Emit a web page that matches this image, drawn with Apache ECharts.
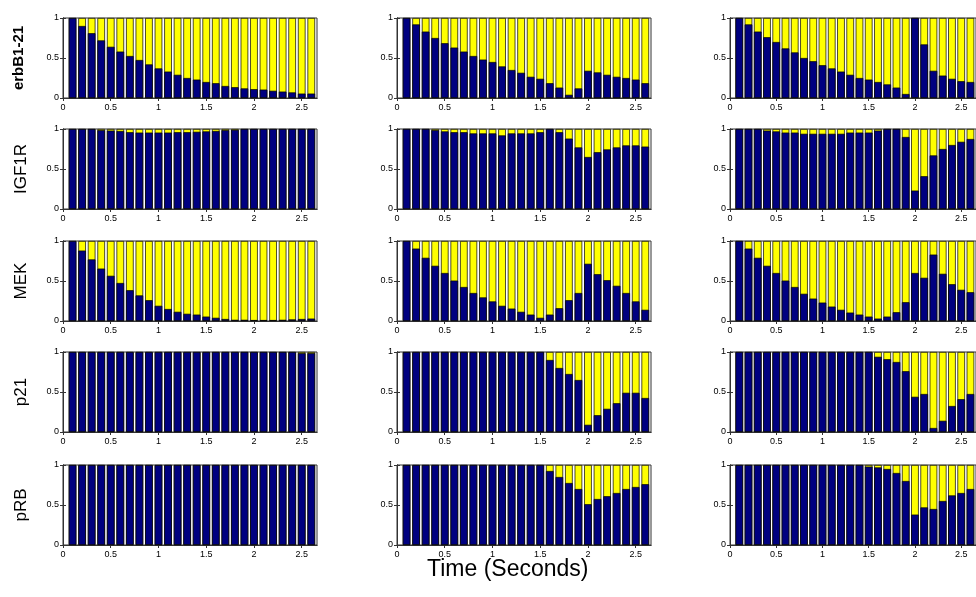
<!DOCTYPE html>
<html><head><meta charset="utf-8">
<script src="https://cdn.jsdelivr.net/npm/echarts@6/dist/echarts.min.js"></script>
<style>html,body{margin:0;padding:0;background:#fff}#c{width:976px;height:597px}</style>
</head><body><div id="c"></div>
<script>
const times = [0.1,0.2,0.3,0.4,0.5,0.6,0.7,0.8,0.9,1.0,1.1,1.2,1.3,1.4,1.5,1.6,1.7,1.8,1.9,2.0,2.1,2.2,2.3,2.4,2.5,2.6];
const xTicks = [0,0.5,1,1.5,2,2.5];
const yTicks = [0,0.5,1];
const rowNames = ['erbB1-21','IGF1R','MEK','p21','pRB'];
const total = 1; // each bar is a fraction of 1 (yellow fills the remainder)

// fraction shown in dark blue for each panel (row, column)
const erbB_1 = [1,0.90,0.81,0.72,0.64,0.58,0.525,0.475,0.42,0.37,0.33,0.29,0.25,0.23,0.20,0.185,0.15,0.135,0.12,0.11,0.105,0.09,0.08,0.07,0.055,0.055];
const erbB_2 = [1,0.92,0.83,0.75,0.685,0.63,0.58,0.525,0.48,0.45,0.395,0.35,0.315,0.265,0.24,0.185,0.13,0.04,0.12,0.34,0.32,0.29,0.265,0.25,0.23,0.185];
const erbB_3 = [1,0.92,0.83,0.76,0.70,0.62,0.57,0.50,0.46,0.41,0.37,0.33,0.29,0.25,0.23,0.20,0.17,0.13,0.05,1,0.67,0.34,0.28,0.24,0.21,0.20];
const igf_1 = [1,1,1,0.985,0.98,0.975,0.96,0.955,0.955,0.955,0.955,0.96,0.96,0.965,0.97,0.975,0.985,0.99,1,1,1,1,1,1,1,1];
const igf_2 = [1,1,1,0.985,0.97,0.96,0.96,0.945,0.945,0.945,0.92,0.945,0.945,0.945,0.96,1,0.96,0.88,0.77,0.65,0.71,0.745,0.77,0.795,0.795,0.78];
const igf_3 = [1,1,1,0.98,0.97,0.955,0.955,0.94,0.94,0.94,0.94,0.94,0.955,0.955,0.955,0.98,1,1,0.9,0.23,0.41,0.67,0.75,0.8,0.84,0.875];
const mek_1 = [1,0.88,0.77,0.655,0.565,0.475,0.385,0.32,0.26,0.19,0.15,0.115,0.09,0.08,0.055,0.04,0.025,0.015,0.015,0.012,0.012,0.012,0.015,0.02,0.025,0.03];
const mek_2 = [1,0.905,0.79,0.69,0.60,0.505,0.425,0.35,0.295,0.245,0.19,0.155,0.115,0.08,0.04,0.08,0.16,0.26,0.35,0.715,0.585,0.51,0.44,0.35,0.245,0.14];
const mek_3 = [1,0.905,0.79,0.69,0.60,0.505,0.425,0.34,0.28,0.23,0.18,0.14,0.105,0.08,0.055,0.03,0.055,0.11,0.235,0.60,0.54,0.83,0.59,0.46,0.39,0.36];
const p21_1 = [1,1,1,1,1,1,1,1,1,1,1,1,1,1,1,1,1,1,1,1,1,1,1,1,0.985,0.985];
const p21_2 = [1,1,1,1,1,1,1,1,1,1,1,1,1,1,1,0.9,0.80,0.725,0.65,0.09,0.21,0.29,0.36,0.49,0.49,0.425];
const p21_3 = [1,1,1,1,1,1,1,1,1,1,1,1,1,1,1,0.94,0.91,0.875,0.76,0.44,0.475,0.05,0.14,0.325,0.41,0.475];
const prb_1 = [1,1,1,1,1,1,1,1,1,1,1,1,1,1,1,1,1,1,1,1,1,1,1,1,1,1];
const prb_2 = [1,1,1,1,1,1,1,1,1,1,1,1,1,1,1,0.925,0.85,0.775,0.70,0.51,0.575,0.61,0.65,0.70,0.725,0.76];
const prb_3 = [1,1,1,1,1,1,1,1,1,1,1,1,1,1,0.98,0.97,0.95,0.90,0.80,0.38,0.47,0.45,0.55,0.62,0.65,0.70];

const panels = [
  [erbB_1, erbB_2, erbB_3],
  [igf_1, igf_2, igf_3],
  [mek_1, mek_2, mek_3],
  [p21_1, p21_2, p21_3],
  [prb_1, prb_2, prb_3]
];

const colLeft = [63, 397, 730];
const rowTop = [18, 129, 241, 352, 465];
const W = 254, H = 80;
const BLUE = '#000080', YELLOW = '#ffff00';

const grid = [], xAxis = [], yAxis = [], series = [];
let g = 0;
for (let r = 0; r < 5; r++) {
  for (let c = 0; c < 3; c++) {
    grid.push({left: colLeft[c], top: rowTop[r], width: W, height: H,
      show: true, backgroundColor: '#fff', borderColor: '#333', borderWidth: 1, containLabel: false});
    const tickCommon = {show: true, inside: true, length: 3, lineStyle: {color: '#333', width: 1}};
    xAxis.push({type: 'value', gridIndex: g, min: 0, max: 2.66, position: 'bottom',
      axisLine: {show: true, lineStyle: {color: '#333'}},
      axisTick: Object.assign({customValues: xTicks}, tickCommon),
      axisLabel: {customValues: xTicks, fontSize: 9, color: '#000', margin: 5, fontFamily: 'Liberation Sans'},
      splitLine: {show: false}});
    xAxis.push({type: 'value', gridIndex: g, min: 0, max: 2.66, position: 'top',
      axisLine: {show: true, lineStyle: {color: '#333'}},
      axisTick: Object.assign({customValues: xTicks}, tickCommon),
      axisLabel: {show: false}, splitLine: {show: false}});
    const ya = {type: 'value', gridIndex: g, min: 0, max: 1, interval: 0.5, position: 'left',
      axisLine: {show: true, lineStyle: {color: '#333'}},
      axisTick: Object.assign({customValues: yTicks}, tickCommon),
      axisLabel: {customValues: yTicks, fontSize: 9, color: '#000', margin: 4, fontFamily: 'Liberation Sans'},
      splitLine: {show: false}};
    if (c === 0) {
      ya.name = rowNames[r];
      ya.nameLocation = 'middle';
      ya.nameRotate = 90;
      if (r === 0) {
        ya.nameGap = 37;
        ya.nameTextStyle = {fontSize: 15, fontWeight: 'bold', color: '#000', fontFamily: 'Liberation Sans'};
      } else {
        ya.nameGap = 33;
        ya.nameTextStyle = {fontSize: 17, color: '#000', fontFamily: 'Liberation Sans'};
      }
    }
    yAxis.push(ya);
    yAxis.push({type: 'value', gridIndex: g, min: 0, max: 1, interval: 0.5, position: 'right',
      axisLine: {show: true, lineStyle: {color: '#333'}},
      axisTick: Object.assign({customValues: yTicks}, tickCommon),
      axisLabel: {show: false}, splitLine: {show: false}});
    const vals = panels[r][c];
    const common = {type: 'bar', xAxisIndex: 2 * g, yAxisIndex: 2 * g,
      barWidth: 7.6, barGap: '-100%', animation: false, silent: true};
    // yellow: full bar (total) behind; blue: measured fraction on top
    series.push(Object.assign({}, common, {
      data: times.map((t) => [t, total]),
      itemStyle: {color: YELLOW, borderColor: '#000', borderWidth: 0.7}}));
    series.push(Object.assign({}, common, {
      data: times.map((t, i) => [t, vals[i]]),
      itemStyle: {color: BLUE, borderColor: '#000', borderWidth: 0.7}}));
    g++;
  }
}

const chart = echarts.init(document.getElementById('c'), null, {renderer: 'canvas'});
chart.setOption({
  backgroundColor: '#fff',
  animation: false,
  grid, xAxis, yAxis, series,
  graphic: [{type: 'text', left: 427, top: 558,
    style: {text: 'Time (Seconds)', fontSize: 23, fill: '#000', fontFamily: 'Liberation Sans'}}]
});
</script></body></html>
